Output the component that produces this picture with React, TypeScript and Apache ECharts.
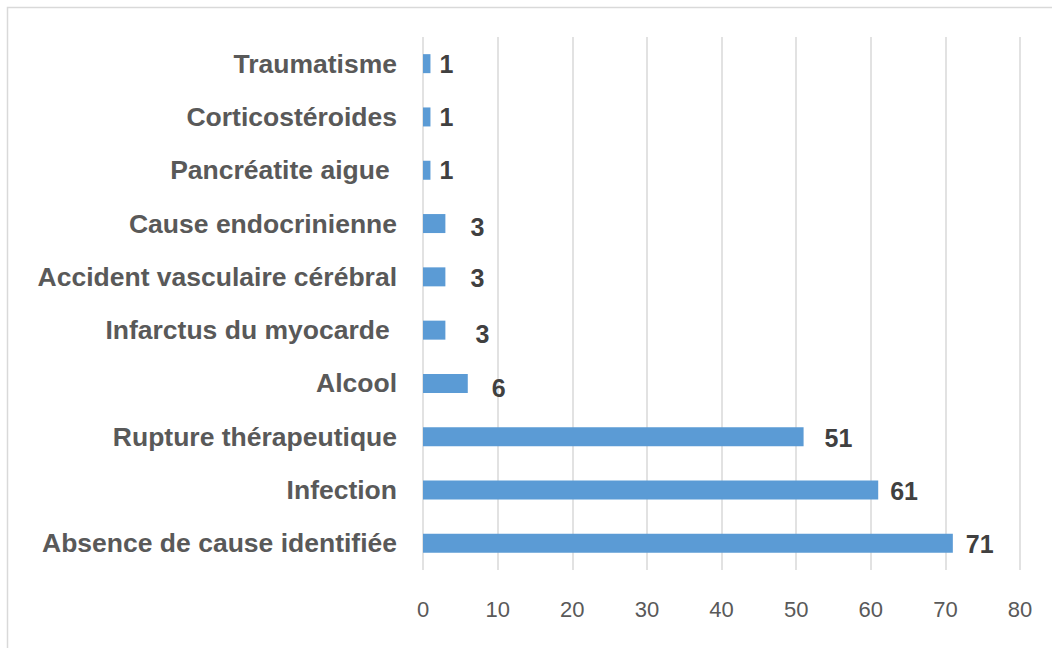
import React, { useEffect, useRef } from "react";
import * as echarts from "echarts";

// Categories listed bottom-to-top (ECharts category axis starts at the bottom)
const categories: string[] = [
  "Absence de cause identifiée",
  "Infection",
  "Rupture thérapeutique",
  "Alcool",
  "Infarctus du myocarde ",
  "Accident vasculaire cérébral",
  "Cause endocrinienne",
  "Pancréatite aigue ",
  "Corticostéroides",
  "Traumatisme",
];
const values: number[] = [71, 61, 51, 6, 3, 3, 3, 1, 1, 1];
const xTicks: number[] = [0, 10, 20, 30, 40, 50, 60, 70, 80];

// label styling (distance from bar end, vertical nudge) per bar
const labelDistance: number[] = [13, 12, 21, 24, 30, 25, 25, 9, 9, 9];
const labelNudge: number[] = [1, 1, 1, 5, 4, 1, 3, 0, 0, 0];

export default function App() {
  const ref = useRef<HTMLDivElement>(null);
  useEffect(() => {
    if (!ref.current) return;
    const chart = echarts.init(ref.current, undefined, { renderer: "svg" });
    const data = values.map((v, i) => ({
      value: v,
      label: { distance: labelDistance[i], offset: [0, labelNudge[i]] },
    }));
    chart.setOption({
      animation: false,
      backgroundColor: "#ffffff",
      graphic: [
        {
          type: "rect",
          shape: { x: 7.5, y: 7.5, width: 1100, height: 700 },
          style: { fill: "none", stroke: "#d9d9d9", lineWidth: 1.5 },
          silent: true,
        },
      ],
      grid: { left: 423, right: 32, top: 37, bottom: 78, containLabel: false },
      xAxis: {
        type: "value",
        min: xTicks[0],
        max: xTicks[xTicks.length - 1],
        interval: 10,
        axisLine: { show: false },
        axisTick: { show: false },
        splitLine: { show: true, lineStyle: { color: "#d9d9d9", width: 1.5 } },
        axisLabel: {
          color: "#595959",
          fontSize: 22,
          fontFamily: "'Liberation Sans', Arial, sans-serif",
          margin: 28,
        },
      },
      yAxis: {
        type: "category",
        data: categories,
        axisLine: { show: false },
        axisTick: { show: false },
        splitLine: { show: false },
        axisLabel: {
          color: "#595959",
          fontSize: 26.5,
          fontWeight: "bold",
          fontFamily: "'Liberation Sans', Arial, sans-serif",
          margin: 26,
        },
      },
      series: [
        {
          type: "bar",
          data,
          barWidth: 19,
          itemStyle: { color: "#5b9bd5" },
          label: {
            show: true,
            position: "right",
            color: "#404040",
            fontSize: 25,
            fontWeight: "bold",
            fontFamily: "'Liberation Sans', Arial, sans-serif",
          },
        },
      ],
    });
    return () => chart.dispose();
  }, []);
  return (
    <div
      ref={ref}
      style={{ position: "absolute", left: 0, top: 0, width: 1052, height: 648 }}
    />
  );
}
